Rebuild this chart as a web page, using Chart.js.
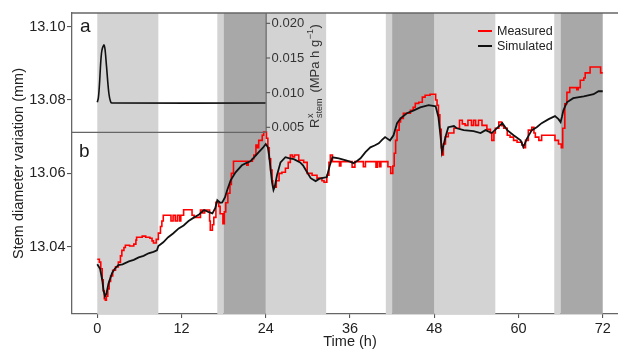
<!DOCTYPE html>
<html>
<head>
<meta charset="utf-8">
<script src="https://cdn.jsdelivr.net/npm/chart.js@4.4.1/dist/chart.umd.min.js"></script>
<style>
  html, body { margin: 0; padding: 0; background: #fff; overflow: hidden; }
  canvas { display: block; }
</style>
</head>
<body>
<!-- the original figure is cropped on the right, so the canvas runs 10px past the window -->
<canvas id="chart" width="628" height="351"></canvas>
<script>
// panel b: stem diameter (mm) over time (h)
const measuredTime = [0, 0.3, 0.5, 0.7, 0.85, 1.0, 1.15, 1.3, 1.5, 1.7, 1.9, 2.2, 2.6, 3.0, 3.3, 3.5, 3.8, 4.0, 4.6, 5.2, 5.5, 5.6, 6.4, 6.9, 7.5, 7.8, 8.0, 8.4, 8.7, 9.0, 9.2, 9.4,
  10.5, 10.8, 11.1, 11.4, 11.7, 11.9, 12.3, 13.5, 13.8, 14.7, 15.0, 15.3, 16.0, 16.1, 16.4, 16.6, 16.9, 17.3, 17.5, 17.9, 18.1, 18.3, 18.6, 18.9, 19.1, 19.4,
  21.3, 21.5, 22.1, 22.3, 22.6, 22.8, 23.0, 23.5, 23.7, 24.1, 24.3, 24.5, 24.7, 24.9, 25.0, 25.3, 25.5, 25.9, 26.3, 26.8, 27.2, 27.5, 27.8, 28.1, 28.7, 29.4, 29.9,
  30.6, 31.3, 32.0, 32.3, 32.7, 33.0, 33.2, 33.5, 34.5, 34.7, 36.3, 36.7, 37.9, 38.2, 39.7, 39.9, 40.2, 40.4, 41.4, 41.8, 42.1, 42.3, 42.5, 42.7, 43.0, 43.2, 43.6,
  44.6, 45.0, 45.3, 45.8, 46.3, 46.7, 47.4, 48.2, 48.4, 48.6, 48.8, 49.0, 49.1, 49.3, 49.6, 50.0, 50.8, 51.6, 52.0, 52.4, 52.8, 53.3, 53.6, 53.9, 54.3, 54.8, 55.5,
  56.0, 56.2, 56.5, 56.7, 57.2, 57.6, 57.9, 58.4, 58.8, 59.3, 59.8, 60.5, 60.7, 61.0, 61.4, 61.9, 62.2, 62.4, 62.9, 63.3, 65.2, 65.7, 66.1, 66.3, 66.6, 66.9, 67.3,
  68.3, 68.5, 68.8, 69.3, 69.5, 70.2, 71.7, 72.0];
const measuredMm = [13.0366, 13.0358, 13.0340, 13.0310, 13.0280, 13.0258, 13.0254, 13.0265, 13.0285, 13.0305, 13.0320, 13.0336, 13.0345, 13.0358, 13.0375, 13.0390, 13.0398, 13.0404, 13.0402, 13.0407, 13.0418, 13.0426, 13.0429, 13.0426, 13.0423, 13.0416, 13.0410, 13.0420, 13.0437, 13.0455, 13.0470, 13.0486,
  13.0470, 13.0486, 13.0470, 13.0486, 13.0470, 13.0486, 13.0501, 13.0486, 13.0480, 13.0500, 13.0492, 13.0500, 13.0470, 13.0445, 13.0460, 13.0480, 13.0521, 13.0510, 13.0490, 13.0463, 13.0495, 13.0520, 13.0546, 13.0570, 13.0600, 13.0633,
  13.0622, 13.0633, 13.0640, 13.0650, 13.0677, 13.0670, 13.0690, 13.0704, 13.0713, 13.0696, 13.0670, 13.0640, 13.0609, 13.0580, 13.0565, 13.0562, 13.0580, 13.0600, 13.0603, 13.0614, 13.0630, 13.0650, 13.0645, 13.0650, 13.0636, 13.0630, 13.0600,
  13.0595, 13.0587, 13.0580, 13.0576, 13.0595, 13.0630, 13.0650, 13.0632, 13.0620, 13.0632, 13.0617, 13.0632, 13.0618, 13.0632, 13.0617, 13.0632, 13.0618, 13.0632, 13.0618, 13.0600, 13.0620, 13.0655, 13.0690, 13.0718, 13.0740, 13.0750, 13.0764,
  13.0772, 13.0780, 13.0791, 13.0794, 13.0808, 13.0813, 13.0816, 13.0800, 13.0786, 13.0760, 13.0720, 13.0670, 13.0650, 13.0680, 13.0700, 13.0710, 13.0723, 13.0745, 13.0735, 13.0731, 13.0745, 13.0731, 13.0745, 13.0731, 13.0745, 13.0731, 13.0720,
  13.0710, 13.0690, 13.0710, 13.0723, 13.0740, 13.0730, 13.0723, 13.0704, 13.0699, 13.0690, 13.0685, 13.0677, 13.0670, 13.0690, 13.0718, 13.0726, 13.0710, 13.0699, 13.0690, 13.0704, 13.0690, 13.0680, 13.0670, 13.0723, 13.0790, 13.0821, 13.0834,
  13.0828, 13.0834, 13.0854, 13.0860, 13.0874, 13.0890, 13.0874, 13.0874];

const simulatedTime = [0, 0.4, 0.7, 0.9, 1.1, 1.3, 1.6, 2.1, 2.5, 3.0, 3.6, 4.5, 5.2, 5.9, 6.6, 7.3, 8.0, 8.5, 8.7, 9.4, 10.1, 10.8, 11.6, 12.3, 13.0, 13.8, 14.5, 15.2, 15.8, 16.4, 16.8, 17.1, 17.5, 17.8,
  18.2, 18.5, 19.0, 19.7, 20.6, 21.2, 21.8, 22.4, 23.0, 23.6, 24.0, 24.3, 24.5, 24.7, 24.9, 25.1, 25.3, 25.6, 26.1, 26.8, 27.4, 28.0, 28.9, 29.3, 29.7, 30.4, 31.1, 31.6, 32.0, 32.7,
  33.1, 33.5, 34.4, 35.3, 36.0, 36.5, 37.0, 37.5, 38.2, 38.9, 39.5, 40.1, 40.6, 41.0, 41.7, 42.2, 42.7, 43.2, 44.1, 45.1, 46.0, 47.2, 48.2, 48.6, 48.9, 49.1, 49.3, 49.6, 50.0, 50.8,
  51.2, 52.2, 53.6, 54.6, 55.3, 56.2, 56.9, 57.7, 58.4, 59.3, 60.3, 60.7, 61.2, 61.9, 62.6, 63.3, 64.3, 65.2, 65.7, 66.0, 66.2, 66.4, 66.9, 67.8, 69.3, 70.7, 71.4, 72.0];
const simulatedMm = [13.0352, 13.0340, 13.0310, 13.0280, 13.0265, 13.0272, 13.0300, 13.0328, 13.0340, 13.0350, 13.0352, 13.0360, 13.0364, 13.0371, 13.0375, 13.0382, 13.0386, 13.0390, 13.0402, 13.0412, 13.0426, 13.0436, 13.0450, 13.0458, 13.0470, 13.0480, 13.0488, 13.0500, 13.0495, 13.0491, 13.0505, 13.0527, 13.0520, 13.0521,
  13.0535, 13.0554, 13.0581, 13.0603, 13.0622, 13.0628, 13.0633, 13.0645, 13.0658, 13.0670, 13.0680, 13.0671, 13.0645, 13.0609, 13.0575, 13.0555, 13.0565, 13.0595, 13.0630, 13.0644, 13.0641, 13.0639, 13.0630, 13.0622, 13.0609, 13.0587, 13.0579, 13.0585, 13.0587, 13.0590,
  13.0620, 13.0644, 13.0641, 13.0636, 13.0632, 13.0628, 13.0634, 13.0641, 13.0658, 13.0671, 13.0676, 13.0682, 13.0692, 13.0699, 13.0690, 13.0704, 13.0737, 13.0750, 13.0764, 13.0772, 13.0780, 13.0786, 13.0783, 13.0753, 13.0700, 13.0658, 13.0675, 13.0699, 13.0726, 13.0729,
  13.0723, 13.0718, 13.0715, 13.0710, 13.0718, 13.0710, 13.0723, 13.0737, 13.0718, 13.0704, 13.0690, 13.0672, 13.0695, 13.0718, 13.0726, 13.0737, 13.0748, 13.0756, 13.0748, 13.0740, 13.0755, 13.0772, 13.0794, 13.0805, 13.0810, 13.0816, 13.0824, 13.0824];

// panel a: R^x_stem (MPa h g-1), first day only
const resistTime = [0, 0.15, 0.3, 0.6, 0.94, 1.1, 1.32, 1.65, 1.9, 2.1, 24];
const resistValue = [0.00862, 0.0092, 0.0110, 0.01568, 0.01688, 0.0163, 0.01375, 0.00991, 0.0087, 0.00851, 0.00851];

const xTicks = [0, 12, 24, 36, 48, 60, 72];
const yTicks = [13.04, 13.06, 13.08, 13.10];
const resistTicks = [0.005, 0.010, 0.015, 0.020];

// shading, [start h, end h]
const lightPeriods = [[0, 8.7], [17.1, 18], [24, 32.6], [41.1, 42], [48, 56.7], [65.1, 66]];
const darkPeriods = [[18, 24], [42, 48], [66, 72]];

const FONT = "'Liberation Sans', Arial, sans-serif";
Chart.defaults.font.family = FONT;

const decor = {
  id: 'decor',
  beforeDatasetsDraw(chart) {
    const {ctx, chartArea: a, scales: {x}} = chart;
    ctx.save();
    const band = (list, color) => {
      ctx.fillStyle = color;
      list.forEach(([s, e]) => {
        const x0 = x.getPixelForValue(s), x1 = x.getPixelForValue(e);
        ctx.fillRect(x0, a.top, x1 - x0, a.bottom - a.top);
      });
    };
    band(lightPeriods, '#d3d3d3');
    band(darkPeriods, '#a8a8a8');
    ctx.restore();
  },
  afterDatasetsDraw(chart) {
    const {ctx, chartArea: a, scales: {x, yr}} = chart;
    ctx.save();
    // top frame
    ctx.strokeStyle = '#666';
    ctx.lineWidth = 1.3;
    ctx.beginPath();
    ctx.moveTo(a.left, a.top);
    ctx.lineTo(a.right, a.top);
    ctx.stroke();

    // inset frame (panel a)
    const xr = x.getPixelForValue(24.05);
    const yb = yr.getPixelForValue(0.00428);
    ctx.beginPath();
    ctx.moveTo(a.left, yb);
    ctx.lineTo(xr, yb);
    ctx.moveTo(xr, a.top);
    ctx.lineTo(xr, yb);
    ctx.stroke();

    // inset axis ticks
    ctx.strokeStyle = '#555';
    ctx.lineWidth = 1.1;
    ctx.fillStyle = '#333';
    ctx.font = '13px ' + FONT;
    ctx.textAlign = 'left';
    ctx.textBaseline = 'middle';
    resistTicks.forEach(v => {
      const py = yr.getPixelForValue(v);
      ctx.beginPath();
      ctx.moveTo(xr, py);
      ctx.lineTo(xr + 4, py);
      ctx.stroke();
      ctx.fillText(v.toFixed(3), xr + 5.5, py + 0.5);
    });

    // inset axis title, rotated
    ctx.save();
    ctx.translate(xr + 52.5, 128);
    ctx.rotate(-Math.PI / 2);
    ctx.textBaseline = 'alphabetic';
    ctx.fillStyle = '#333';
    let cx = 0;
    ctx.font = '13px ' + FONT;
    ctx.fillText('R', cx, 0);
    cx += ctx.measureText('R').width + 0.5;
    ctx.font = '9px ' + FONT;
    ctx.fillText('x', cx, -6);
    ctx.fillText('stem', cx, 3.5);
    cx += ctx.measureText('stem').width + 6;
    ctx.font = '13px ' + FONT;
    ctx.fillText('(MPa h g', cx, 0);
    cx += ctx.measureText('(MPa h g').width + 0.5;
    ctx.font = '9px ' + FONT;
    ctx.fillText('\u22121', cx, -6);
    cx += ctx.measureText('\u22121').width + 0.5;
    ctx.font = '13px ' + FONT;
    ctx.fillText(')', cx, 0);
    ctx.restore();

    // panel letters
    ctx.fillStyle = '#1a1a1a';
    ctx.font = '19px ' + FONT;
    ctx.textAlign = 'left';
    ctx.textBaseline = 'alphabetic';
    ctx.fillText('a', a.left + 8, a.top + 19);
    ctx.fillText('b', a.left + 7, yb + 25);

    // legend
    const items = chart.data.datasets.filter(d => d.yAxisID === 'y');
    ctx.font = '12.5px ' + FONT;
    ctx.textBaseline = 'middle';
    items.sort((p, q) => p.legendRank - q.legendRank).forEach((d, i) => {
      const ly = 31 + i * 15;
      ctx.strokeStyle = d.borderColor;
      ctx.lineWidth = 2;
      ctx.beginPath();
      ctx.moveTo(478, ly);
      ctx.lineTo(492, ly);
      ctx.stroke();
      ctx.fillStyle = '#222';
      ctx.fillText(d.label, 497, ly + 0.5);
    });
    ctx.restore();
  }
};

const pts = (xs, ys) => xs.map((t, i) => ({x: t, y: ys[i]}));

new Chart(document.getElementById('chart'), {
  type: 'line',
  data: {
    datasets: [
      {
        label: 'Measured',
        legendRank: 0,
        data: pts(measuredTime, measuredMm),
        yAxisID: 'y',
        borderColor: '#ff0000',
        borderWidth: 1.6,
        stepped: true,
        pointRadius: 0,
        order: 2,
      },
      {
        label: 'Simulated',
        legendRank: 1,
        data: pts(simulatedTime, simulatedMm),
        yAxisID: 'y',
        borderColor: '#111111',
        borderWidth: 1.8,
        tension: 0,
        pointRadius: 0,
        order: 1,
      },
      {
        label: 'Rstem',
        data: pts(resistTime, resistValue),
        yAxisID: 'yr',
        borderColor: '#111111',
        borderWidth: 1.6,
        tension: 0.3,
        pointRadius: 0,
        order: 0,
      },
    ],
  },
  options: {
    responsive: false,
    animation: false,
    devicePixelRatio: 1,
    layout: { padding: { top: 13, right: 0, left: 0, bottom: 0 } },
    plugins: { legend: { display: false }, tooltip: { enabled: false } },
    scales: {
      x: {
        type: 'linear',
        min: -3.6,
        max: 75.6,
        afterBuildTicks: s => { s.ticks = xTicks.map(v => ({value: v})); },
        afterFit: s => { s.height = 37; },
        ticks: { color: '#222', font: { size: 14.5 }, padding: 2, maxRotation: 0, callback: v => String(v) },
        grid: { display: true, drawOnChartArea: false, tickLength: 4, color: '#555', lineWidth: 1.1 },
        border: { display: true, color: '#666', width: 1.3 },
        title: { display: true, text: 'Time (h)', color: '#222', font: { size: 14.5 }, padding: { top: 0, bottom: 0 } },
      },
      y: {
        type: 'linear',
        position: 'left',
        min: 13.02165,
        max: 13.10374,
        afterBuildTicks: s => { s.ticks = yTicks.map(v => ({value: v})); },
        afterFit: s => { s.width = 72; },
        ticks: { color: '#222', font: { size: 14.5 }, padding: 1.5, callback: v => v.toFixed(2) },
        grid: { display: true, drawOnChartArea: false, tickLength: 5, color: '#555', lineWidth: 1.1 },
        border: { display: true, color: '#666', width: 1.3 },
        title: { display: true, text: 'Stem diameter variation (mm)', color: '#222', font: { size: 14.5 }, padding: { top: 10.5, bottom: 0 } },
      },
      yr: {
        type: 'linear',
        display: false,
        min: -0.02193,
        max: 0.02149,
      },
    },
  },
  plugins: [decor],
});
</script>
</body>
</html>
